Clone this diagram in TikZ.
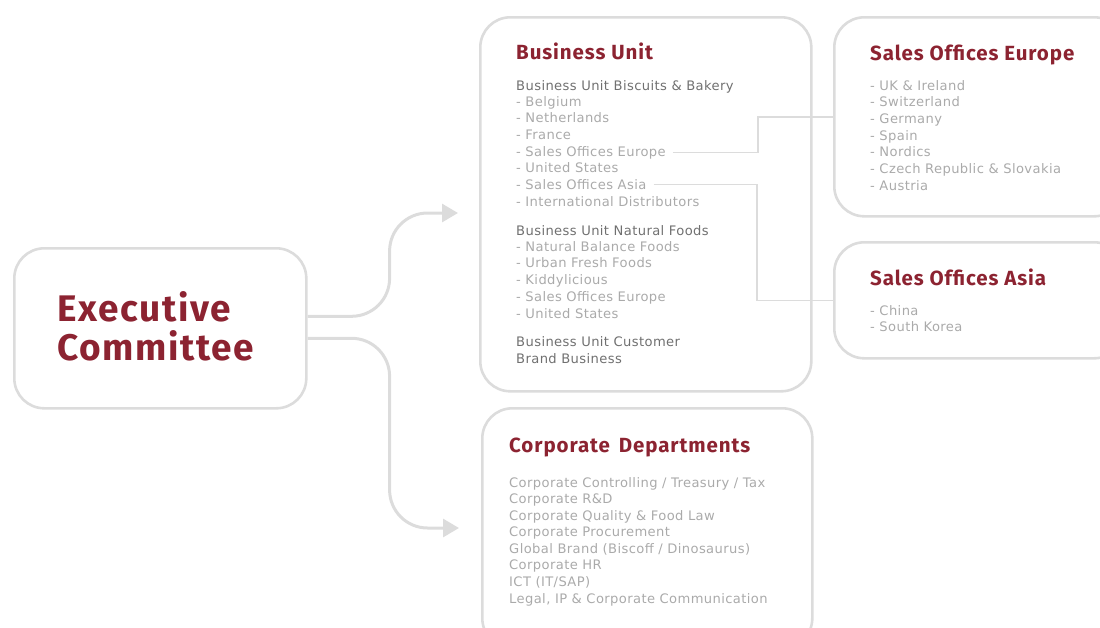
\documentclass[tikz,border=0pt]{standalone}
\usepackage{fontspec}
\setmainfont{DejaVu Sans}[LetterSpace=3]
\newfontfamily\headfont{Fira Sans}[LetterSpace=4.5]
\usetikzlibrary{arrows.meta}
\definecolor{unitred}{HTML}{8C2331}
\definecolor{boxgray}{HTML}{DCDCDC}
\definecolor{subgray}{HTML}{707070}
\definecolor{itemgray}{HTML}{AAAAAA}
\begin{document}
\begin{tikzpicture}[x=1pt,y=-1pt,
    box/.style={draw=boxgray,line width=2.6pt,rounded corners=30pt,anchor=north west,inner sep=0pt},
    head/.style={anchor=base west,inner sep=0pt,text=unitred,font=\headfont\bfseries\fontsize{20.5}{24}\selectfont},
    sub/.style={anchor=base west,inner sep=0pt,text=subgray,font=\fontsize{13.1}{15}\selectfont},
    item/.style={sub,text=itemgray},
    flow/.style={draw=boxgray,line width=3pt,rounded corners=38pt,-{Triangle[length=16pt,width=18pt]}},
    link/.style={draw=boxgray,line width=1.5pt}]
    \useasboundingbox (0,0) rectangle (1100,627);
    \clip (0,0) rectangle (1100,627);
    %% executive committee
    \node[box,minimum width=292pt,minimum height=160pt] (exec) at (13,247) {};
    \node[head,font=\headfont\bfseries\fontsize{37}{40}\selectfont] (exec-1) at (57,321) {Executive};
    \node[head,font=\headfont\bfseries\fontsize{37}{40}\selectfont] (exec-2) at (57,360) {Committee};
    %% business unit
    \node[box,minimum width=331pt,minimum height=374pt] (bu) at (479,16) {};
    \node[head] (bu-head) at (516,59) {Business Unit};
    \node[sub] (bu-sub1) at (516,90) {Business Unit Biscuits \& Bakery};
    \foreach \t [count=\i] in {Belgium,Netherlands,France,Sales Offices Europe,United States,Sales Offices Asia,International Distributors}
        \node[item] (bu-\i) at (516,{106+16.67*(\i-1)}) {- \t};
    \node[sub] (bu-sub2) at (516,235) {Business Unit Natural Foods};
    \foreach \t [count=\i] in {Natural Balance Foods,Urban Fresh Foods,Kiddylicious,Sales Offices Europe,United States}
        \node[item] (nf-\i) at (516,{251+16.75*(\i-1)}) {- \t};
    \node[sub] (bu-sub3) at (516,346) {Business Unit Customer};
    \node[sub] (bu-sub4) at (516,363) {Brand Business};
    %% sales offices europe
    \node[box,minimum width=290pt,minimum height=199pt] (soe) at (833,16) {};
    \node[head] (soe-head) at (870,60) {Sales Offices Europe};
    \foreach \t [count=\i] in {UK \& Ireland,Switzerland,Germany,Spain,Nordics,Czech Republic \& Slovakia,Austria}
        \node[item] (soe-\i) at (870,{90+16.67*(\i-1)}) {- \t};
    %% sales offices asia
    \node[box,minimum width=290pt,minimum height=116pt] (soa) at (833,241) {};
    \node[head] (soa-head) at (870,285) {Sales Offices Asia};
    \node[item] (soa-1) at (870,315) {- China};
    \node[item] (soa-2) at (870,331) {- South Korea};
    %% corporate departments
    \node[box,minimum width=330pt,minimum height=240pt] (cd) at (481,407) {};
    \node[head] (cd-head) at (509,452) {Corporate\hspace{0.15em} Departments};
    \foreach \t [count=\i] in {Corporate Controlling / Treasury / Tax,Corporate R\&D,Corporate Quality \& Food Law,Corporate Procurement,Global Brand (Biscoff / Dinosaurus),Corporate HR,ICT (IT/SAP),{Legal, IP \& Corporate Communication}}
        \node[item] (cd-\i) at (509,{487+16.57*(\i-1)}) {\t};
    %% flows
    \coordinate (buin) at (458,213);
    \coordinate (cdin) at (459,528);
    \draw[flow] ([yshift=12pt]exec.east) -- ++(82,0) |- (buin);
    \draw[flow] ([yshift=-10pt]exec.east) -- ++(82,0) |- (cdin);
    %% links
    \draw[link] ([xshift=7pt]bu-4.east) -| ([xshift=-75pt]soe.west) -- (soe.west);
    \draw[link] ([xshift=7pt]bu-6.east) -| ([xshift=-76pt]soa.west) -- (soa.west);
\end{tikzpicture}
\end{document}
